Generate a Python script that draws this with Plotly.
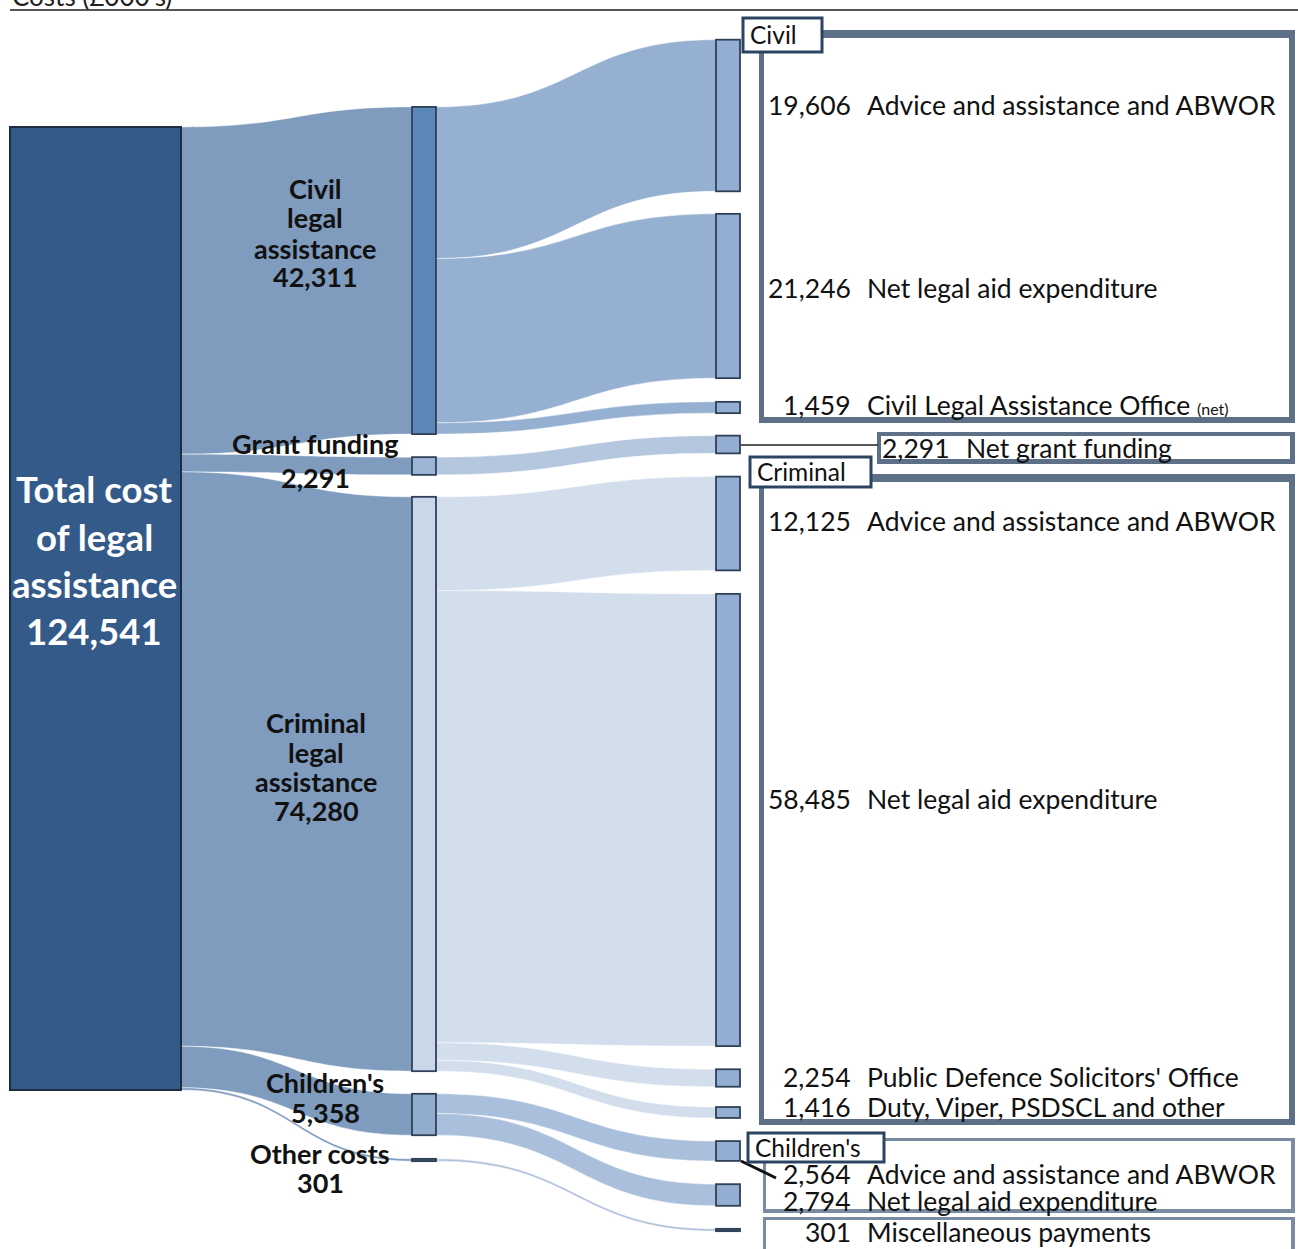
import plotly.graph_objects as go

# ---------------- data ----------------
total_label = "Total cost of legal assistance"
total_value = 124541

group_names = ["Civil legal assistance", "Grant funding", "Criminal legal assistance", "Children's", "Other costs"]
group_values = [42311, 2291, 74280, 5358, 301]

detail_names = [
    "Advice and assistance and ABWOR", "Net legal aid expenditure", "Civil Legal Assistance Office",
    "Net grant funding",
    "Advice and assistance and ABWOR", "Net legal aid expenditure", "Public Defence Solicitors' Office",
    "Duty, Viper, PSDSCL and other",
    "Advice and assistance and ABWOR", "Net legal aid expenditure",
    "Miscellaneous payments",
]
detail_values = [19606, 21246, 1459, 2291, 12125, 58485, 2254, 1416, 2564, 2794, 301]
detail_group = [0, 0, 0, 1, 2, 2, 2, 2, 3, 3, 4]

# ---------------- layout helpers ----------------
W, H = 1298, 1249
PAD = 28.6
ky = (H - 10 * PAD) / total_value  # px per unit used by the sankey layout


def px(x):
    return x / W


def py(y):
    return 1 - y / H


# node centres (pixels)
total_cx, total_cy = 168, 608.5
group_cx = 424
group_cy = [270.5, 466, 784, 1114.5, 1160]
detail_cx = 728
detail_cy = [115.5, 296, 407.5, 444.5, 523.5, 820, 1078, 1112.5, 1151, 1195, 1230]

node_x = [total_cx / W] + [group_cx / W] * len(group_values) + [detail_cx / W] * len(detail_values)
node_y = [total_cy / H] + [c / H for c in group_cy] + [c / H for c in detail_cy]

group_node_colors = ["#5b87b9", "#9db5d5", "#c9d7e9", "#92acce", "#4b5d75"]
detail_node_colors = ["#93aed2"] * 10 + ["#4b5d75"]
node_colors = ["#345a8a"] + group_node_colors + detail_node_colors

src, tgt, val, lcol = [], [], [], []
for i, v in enumerate(group_values):
    src.append(0)
    tgt.append(1 + i)
    val.append(v)
    lcol.append("#7f9bbd")
group_link_colors = ["#95b0d0", "#b4c7de", "#d3deec", "#a9bfdb", "#b0c3da"]
for j, v in enumerate(detail_values):
    g = detail_group[j]
    src.append(1 + g)
    tgt.append(1 + len(group_values) + j)
    val.append(v)
    lcol.append(group_link_colors[g])

n_nodes = 1 + len(group_values) + len(detail_values)

fig = go.Figure(go.Sankey(
    arrangement="fixed",
    domain=dict(x=[0, 1], y=[0, 1]),
    hoverinfo="none",
    node=dict(
        label=[""] * n_nodes,
        x=node_x,
        y=node_y,
        pad=PAD,
        thickness=24,
        color=node_colors,
        line=dict(color="#2f4159", width=1.8),
        hoverinfo="none",
    ),
    link=dict(
        source=src,
        target=tgt,
        value=val,
        color=lcol,
        line=dict(color="rgba(255,255,255,0.55)", width=0.8),
        hoverinfo="none",
    ),
))

shapes = []
annotations = []
TXT = "#111111"

# header
annotations.append(dict(x=px(10), y=py(-4), xref="paper", yref="paper", xanchor="left", yanchor="middle",
                        text="Costs (£000's)", showarrow=False,
                        font=dict(family="Lato", size=26, color="#222")))
shapes.append(dict(type="line", xref="paper", yref="paper", x0=px(10), x1=px(1298), y0=py(10), y1=py(10),
                   line=dict(color="#555", width=2)))

# total box (wide node)
half = total_value * ky / 2
shapes.append(dict(type="rect", xref="paper", yref="paper", x0=px(10), x1=px(181),
                   y0=py(total_cy - half), y1=py(total_cy + half),
                   fillcolor="#345a8a", line=dict(color="#1f2d40", width=2), layer="above"))

total_lines = ["Total cost", "of legal", "assistance", f"{total_value:,}"]
for k, (t, yy) in enumerate(zip(total_lines, [489, 537, 584, 631])):
    annotations.append(dict(x=px(94), y=py(yy), xref="paper", yref="paper", xanchor="center", yanchor="middle",
                            text=f"<b>{t}</b>", showarrow=False,
                            font=dict(family="Lato", size=36.5, color="white")))

# middle labels
mid_lines = [
    (["Civil", "legal", "assistance", f"{group_values[0]:,}"], 315, [188, 218, 248, 277]),
    (["Grant funding", f"{group_values[1]:,}"], 315, [443, 477]),
    (["Criminal", "legal", "assistance", f"{group_values[2]:,}"], 316, [722, 752, 781, 810]),
    (["Children's", f"{group_values[3]:,}"], 325, [1082, 1112]),
    (["Other costs", f"{group_values[4]:,}"], 320, [1153, 1182]),
]
for lines, cx, ys in mid_lines:
    for t, yy in zip(lines, ys):
        annotations.append(dict(x=px(cx), y=py(yy), xref="paper", yref="paper", xanchor="center",
                                yanchor="middle", text=f"<b>{t}</b>", showarrow=False,
                                font=dict(family="Lato", size=27, color=TXT)))


# group frames
def frame(x0, y0, x1, y1, top=8, side=5, color="#5d7088"):
    shapes.append(dict(type="rect", xref="paper", yref="paper", x0=px(x0), x1=px(x1), y0=py(y0), y1=py(y1),
                       fillcolor=color, line=dict(width=0), layer="above"))
    shapes.append(dict(type="rect", xref="paper", yref="paper", x0=px(x0 + side), x1=px(x1 - side - 1),
                       y0=py(y0 + top), y1=py(y1 - side - 1),
                       fillcolor="white", line=dict(width=0), layer="above"))


frame(759, 30, 1295, 423)
frame(877, 432, 1295, 464, top=4, side=4)
frame(759, 474, 1295, 1125)
frame(763, 1138, 1295, 1213, top=3, side=3, color="#7a8ca2")
frame(763, 1217, 1295, 1262, top=3, side=3, color="#7a8ca2")

# connector lines
shapes.append(dict(type="line", xref="paper", yref="paper", x0=px(741), x1=px(878), y0=py(445), y1=py(445),
                   line=dict(color="#222", width=1.5), layer="above"))
shapes.append(dict(type="line", xref="paper", yref="paper", x0=px(741), x1=px(776), y0=py(1161), y1=py(1178),
                   line=dict(color="#111", width=3), layer="above"))


# group title boxes
def title_box(x0, y0, x1, y1, text):
    shapes.append(dict(type="rect", xref="paper", yref="paper", x0=px(x0), x1=px(x1), y0=py(y0), y1=py(y1),
                       fillcolor="white", line=dict(color="#2b4462", width=3), layer="above"))
    annotations.append(dict(x=px(x0 + 5), y=py((y0 + y1) / 2), xref="paper", yref="paper", xanchor="left",
                            yanchor="middle", text=text, showarrow=False,
                            font=dict(family="Lato", size=24.5, color=TXT)))


title_box(743, 18, 822, 52, "Civil")
title_box(750, 457, 871, 487, "Criminal")
title_box(748, 1133, 884, 1162, "Children's")

# right-hand detail labels
row_y = [105, 288, 405, 448, 521, 799, 1077, 1107, 1174, 1201, 1232]
num_right = [853] * 11
num_right[3] = 952
for j, (name, v) in enumerate(zip(detail_names, detail_values)):
    txt = name
    if j == 2:
        txt = name + " <span style='font-size:16px'>(net)</span>"
    annotations.append(dict(x=px(num_right[j]), y=py(row_y[j]), xref="paper", yref="paper", xanchor="right",
                            yanchor="middle", text=f"{v:,}", showarrow=False,
                            font=dict(family="Lato", size=26.5, color=TXT)))
    annotations.append(dict(x=px(num_right[j] + 12), y=py(row_y[j]), xref="paper", yref="paper", xanchor="left",
                            yanchor="middle", text=txt, showarrow=False,
                            font=dict(family="Lato", size=26.5, color=TXT)))

fig.update_layout(
    width=W, height=H,
    margin=dict(l=0, r=0, t=0, b=0),
    paper_bgcolor="white",
    plot_bgcolor="white",
    shapes=shapes,
    annotations=annotations,
    font=dict(family="Lato"),
    showlegend=False,
)

fig.write_html("out.html")
